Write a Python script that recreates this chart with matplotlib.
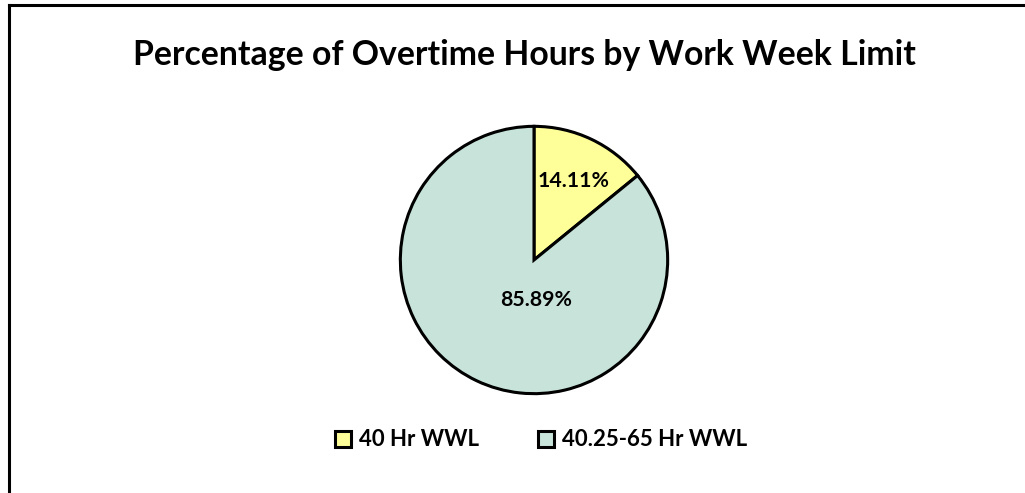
import matplotlib.pyplot as plt
from matplotlib.patches import Patch
from matplotlib.lines import Line2D

plt.rcParams['font.family'] = ['Lato', 'DejaVu Sans']

categorias = ['40 Hr WWL', '40.25-65 Hr WWL']
valores = [14.11, 85.89]
cores = ['#FFFF99', '#C8E4DA']

fig = plt.figure(figsize=(10.25, 4.93), dpi=100)

# borda do grafico (apenas esquerda e topo visiveis)
fig.add_artist(Line2D([8.5 / 1025, 8.5 / 1025], [0, 1 - 4.5 / 493], color='black', lw=2.2))
fig.add_artist(Line2D([8.5 / 1025, 1], [1 - 4.5 / 493, 1 - 4.5 / 493], color='black', lw=2.2))

fig.text(524 / 1025, 1 - 55 / 493, 'Percentage of Overtime Hours by Work Week Limit',
         ha='center', va='center', fontsize=24.3, fontweight='bold')

# pizza: centro (534, 260), raio 135 px
r = 135
ax = fig.add_axes([(534 - r) / 1025, (493 - 260 - r) / 493, 2 * r / 1025, 2 * r / 493])
wedges, _ = ax.pie(valores, colors=cores, startangle=90, counterclock=False,
                   wedgeprops=dict(edgecolor='black', linewidth=2.2))
ax.set_aspect('equal')
ax.set_xlim(-1.01, 1.01)
ax.set_ylim(-1.01, 1.01)

fig.text(574 / 1025, 1 - 181 / 493, f'{valores[0]:.2f}%', ha='center', va='center',
         fontsize=15.3, fontweight='bold')
fig.text(536 / 1025, 1 - 300 / 493, f'{valores[1]:.2f}%', ha='center', va='center',
         fontsize=15.3, fontweight='bold')

handles = [Patch(facecolor=c, edgecolor='black', linewidth=2.2) for c in cores]
fig.legend(handles, categorias, loc='center', bbox_to_anchor=(541 / 1025, 1 - 440 / 493),
           ncol=2, frameon=False, handlelength=0.72, handleheight=0.72, handletextpad=0.36,
           columnspacing=2.65, prop=dict(size=16, weight='bold'))

fig.savefig('out.png', dpi=100)
